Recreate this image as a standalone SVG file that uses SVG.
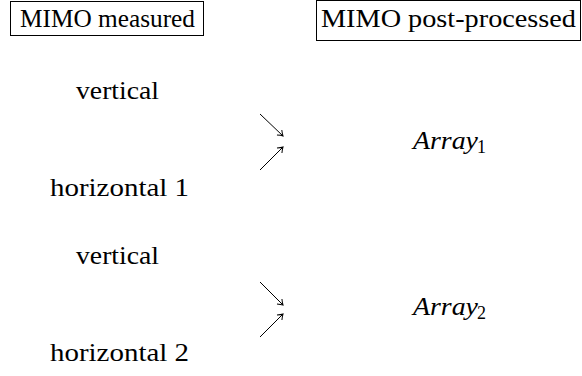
<svg xmlns="http://www.w3.org/2000/svg" width="582" height="376" viewBox="0 0 582 376">
<style>
text{font-family:"Liberation Serif","DejaVu Serif",serif;font-size:25px;fill:#000}
.box{fill:#fff;stroke:#000;stroke-width:1}
.it{font-style:italic;font-size:26px}
.sub{font-size:18px}
.conn line{stroke:#000;stroke-width:1}
</style>
<defs>
<marker id="ah" markerUnits="userSpaceOnUse" markerWidth="12" markerHeight="12" refX="0" refY="0" viewBox="-8 -6 12 12" orient="auto">
<path d="M-5,-3.5 Q-2,-1 0,0 Q-2,1 -5,3.5" fill="none" stroke="#000" stroke-width="1"/>
</marker>
</defs>
<rect width="582" height="376" fill="#fff"/>
<g id="box-measured"><rect class="box" x="10.5" y="1.5" width="193" height="34"/><text x="20" y="27" textLength="175" lengthAdjust="spacingAndGlyphs">MIMO measured</text></g>
<g id="box-post"><rect class="box" x="316.5" y="0.5" width="264" height="40"/><text x="321" y="27" textLength="255" lengthAdjust="spacingAndGlyphs">MIMO post-processed</text></g>
<g id="vertical-1"><text x="76" y="99" textLength="83" lengthAdjust="spacingAndGlyphs">vertical</text></g>
<g id="horizontal-1"><text x="50" y="196" textLength="139" lengthAdjust="spacingAndGlyphs">horizontal 1</text></g>
<g id="array-1"><text x="413" y="149" class="it" textLength="65" lengthAdjust="spacingAndGlyphs">Array</text><text x="477" y="153" class="sub">1</text></g>
<g id="vertical-2"><text x="76" y="264" textLength="83" lengthAdjust="spacingAndGlyphs">vertical</text></g>
<g id="horizontal-2"><text x="50" y="361" textLength="139" lengthAdjust="spacingAndGlyphs">horizontal 2</text></g>
<g id="array-2"><text x="413" y="315" class="it" textLength="65" lengthAdjust="spacingAndGlyphs">Array</text><text x="477" y="319" class="sub">2</text></g>
<g id="connectors" class="conn">
<line x1="260" y1="114" x2="283" y2="136" marker-end="url(#ah)"/>
<line x1="260" y1="170" x2="283" y2="147" marker-end="url(#ah)"/>
<line x1="260" y1="282" x2="283" y2="305" marker-end="url(#ah)"/>
<line x1="260" y1="337" x2="283" y2="314" marker-end="url(#ah)"/>
</g>
</svg>
